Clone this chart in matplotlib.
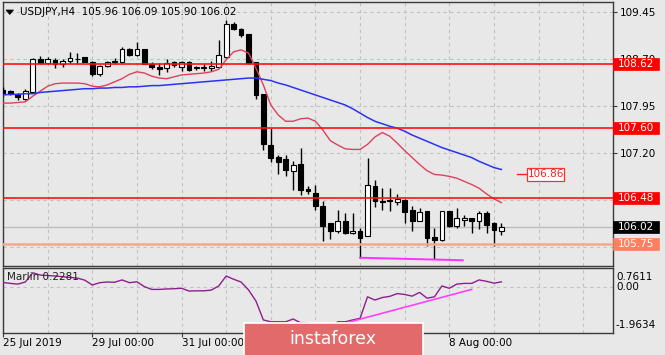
import matplotlib
matplotlib.use("Agg")
import matplotlib.pyplot as plt
from matplotlib.patches import Rectangle, Polygon
from matplotlib.transforms import blended_transform_factory
import numpy as np

plt.rcParams['font.family'] = ['DejaVu Sans']

# ---------------- data ----------------
title = "USDJPY,H4  105.96 106.09 105.90 106.02"
opens = [108.21, 108.20, 108.15, 108.06, 108.17, 108.70, 108.64, 108.69, 108.62, 108.68,
         108.71, 108.73, 108.66, 108.46, 108.60, 108.66, 108.65, 108.86, 108.77, 108.86,
         108.62, 108.57, 108.56, 108.65, 108.58, 108.65, 108.56, 108.56, 108.56, 108.58,
         108.74, 109.26, 109.19, 109.10, 108.65, 108.14, 107.33, 107.14, 107.10, 106.92,
         107.02, 106.62, 106.56, 106.36, 106.08, 105.95, 106.11, 105.92, 105.96, 105.88,
         106.68, 106.44, 106.43, 106.42, 106.46, 106.29, 106.12, 106.27, 105.86, 105.81,
         106.27, 106.04, 106.14, 106.16, 106.12, 106.24, 106.09, 105.96]
highs = [108.25, 108.21, 108.16, 108.23, 108.72, 108.75, 108.74, 108.72, 108.70, 108.82,
         108.80, 108.74, 108.67, 108.61, 108.67, 108.72, 108.90, 108.88, 108.97, 108.87,
         108.66, 108.64, 108.70, 108.68, 108.68, 108.67, 108.60, 108.62, 108.67, 109.01,
         109.32, 109.30, 109.20, 109.11, 108.66, 108.14, 107.60, 107.17, 107.17, 107.08,
         107.29, 106.67, 106.69, 106.44, 106.09, 106.30, 106.24, 106.24, 106.00, 107.12,
         106.77, 106.64, 106.64, 106.55, 106.47, 106.35, 106.32, 106.28, 106.00, 106.28,
         106.28, 106.32, 106.21, 106.17, 106.27, 106.27, 106.10, 106.09]
lows = [108.12, 108.13, 108.05, 108.05, 108.16, 108.62, 108.62, 108.56, 108.58, 108.64,
        108.62, 108.65, 108.43, 108.43, 108.58, 108.62, 108.64, 108.76, 108.76, 108.62,
        108.55, 108.45, 108.50, 108.57, 108.52, 108.52, 108.53, 108.52, 108.51, 108.56,
        108.72, 109.16, 109.06, 108.62, 108.06, 107.25, 107.06, 106.86, 106.84, 106.61,
        106.54, 106.55, 106.29, 105.80, 105.83, 105.92, 105.91, 105.91, 105.53, 105.87,
        106.34, 106.30, 106.28, 106.37, 106.08, 105.95, 106.11, 105.71, 105.51, 105.79,
        106.02, 106.00, 106.04, 105.92, 105.99, 105.92, 105.71, 105.90]
closes = [108.16, 108.14, 108.09, 108.20, 108.70, 108.64, 108.70, 108.62, 108.68, 108.72,
          108.70, 108.66, 108.46, 108.59, 108.65, 108.67, 108.86, 108.77, 108.86, 108.62,
          108.57, 108.55, 108.64, 108.61, 108.66, 108.53, 108.57, 108.57, 108.60, 108.77,
          109.26, 109.18, 109.08, 108.64, 108.13, 107.34, 107.13, 107.06, 106.93, 107.01,
          106.61, 106.60, 106.35, 106.04, 105.96, 106.12, 105.92, 105.96, 105.85, 106.69,
          106.43, 106.42, 106.45, 106.47, 106.26, 106.11, 106.26, 105.84, 105.81, 106.27,
          106.03, 106.17, 106.16, 106.11, 106.24, 106.06, 105.97, 106.02]
ma_fast = [108.00, 108.00, 108.01, 108.02, 108.11, 108.19, 108.27, 108.31, 108.32, 108.32,
           108.32, 108.31, 108.27, 108.26, 108.29, 108.34, 108.39, 108.46, 108.50, 108.48,
           108.43, 108.40, 108.39, 108.42, 108.45, 108.46, 108.47, 108.48, 108.50, 108.54,
           108.69, 108.82, 108.85, 108.80, 108.56, 108.29, 107.97, 107.81, 107.71, 107.71,
           107.75, 107.76, 107.71, 107.57, 107.40, 107.33, 107.27, 107.26, 107.26, 107.34,
           107.46, 107.53, 107.47, 107.36, 107.24, 107.13, 107.02, 106.92, 106.86, 106.85,
           106.83, 106.80, 106.75, 106.70, 106.64, 106.55, 106.47, 106.41]
ma_slow = [108.13, 108.14, 108.14, 108.15, 108.15, 108.17, 108.18, 108.19, 108.20, 108.21,
           108.22, 108.23, 108.23, 108.24, 108.24, 108.25, 108.25, 108.26, 108.26, 108.27,
           108.28, 108.28, 108.29, 108.30, 108.31, 108.32, 108.33, 108.34, 108.35, 108.36,
           108.37, 108.38, 108.39, 108.40, 108.40, 108.38, 108.36, 108.32, 108.29, 108.25,
           108.21, 108.17, 108.13, 108.09, 108.05, 108.01, 107.97, 107.91, 107.84, 107.77,
           107.71, 107.67, 107.63, 107.60, 107.55, 107.49, 107.44, 107.39, 107.34, 107.29,
           107.25, 107.21, 107.17, 107.13, 107.07, 107.02, 106.97, 106.94]
marlin = [0.20, 0.16, 0.13, 0.22, 0.62, 0.52, 0.50, 0.48, 0.45, 0.42,
          0.39, 0.30, 0.09, 0.19, 0.22, 0.21, 0.31, 0.19, 0.23, 0.02,
          -0.10, -0.10, -0.08, -0.07, -0.05, -0.17, -0.16, -0.16, -0.13, 0.05,
          0.48, 0.34, 0.22, -0.12, -0.60, -1.42, -1.50, -1.50, -1.50, -1.38,
          -1.54, -1.56, -1.80, -1.96, -1.80, -1.50, -1.50, -1.42, -1.35, -0.42,
          -0.56, -0.45, -0.40, -0.28, -0.32, -0.39, -0.23, -0.48, -0.42, 0.05,
          -0.05, 0.13, 0.16, 0.16, 0.31, 0.25, 0.17, 0.2281]

levels_red = [108.62, 107.60, 106.48]
level_salmon = 105.75
bid = 106.02
target_label = 106.86
price_ticks = [109.45, 108.70, 107.95, 107.20, 106.45, 105.70]
price_tick_labels = ["109.45", "108.70", "107.95", "107.20", "", ""]
date_labels = ["25 Jul 2019", "29 Jul 00:00", "31 Jul 00:00", "8 Aug 00:00"]
date_pos = [0, 12, 24, 60]
day_starts = list(range(0, 84, 6))
sup_line = ([48, 61.8], [105.53, 105.49])
osc_trend = ([46.2, 63.0], [-1.54, -0.10])
marlin_max, marlin_min = 0.7611, -1.9634

# ---------------- figure ----------------
W, H = 665, 355
BG = '#E8E8E8'
fig = plt.figure(figsize=(W / 100, H / 100), dpi=100, facecolor=BG)


def fx(px):
    return px / W


def fy(py):
    return 1 - py / H


ax = fig.add_axes([fx(3), fy(265.5), (613 - 3) / W, (265.5 - 2) / H])
ax2 = fig.add_axes([fx(3), fy(332.7), (613 - 3) / W, (332.7 - 267.5) / H])
for a in (ax, ax2):
    a.set_facecolor(BG)
    for s in a.spines.values():
        s.set_color('#3a3a3a')
        s.set_linewidth(1.0)

x = np.arange(len(opens))
ax.set_xlim(0, 82)
ax.set_ylim(105.406, 109.615)
ax2.set_xlim(0, 82)
ax2.set_ylim(-1.972, 0.848)

grid_kw = dict(color='#C2C2C2', linestyle=(0, (3, 3)), linewidth=0.8)
ax.set_xticks(day_starts)
ax.tick_params(axis='x', length=0, labelbottom=False)
ax.yaxis.tick_right()
ax.set_yticks(price_ticks)
ax.set_yticklabels(price_tick_labels)
ax.tick_params(axis='y', right=True, length=3, pad=2, labelsize=7.5, color='#3a3a3a')
ax.grid(True, **grid_kw)
ax.set_axisbelow(True)

ax2.set_xticks(day_starts, minor=True)
ax2.set_xticks(date_pos)
ax2.tick_params(axis='x', which='minor', length=0)
ax2.tick_params(axis='x', which='major', length=3, labelbottom=False, color='#3a3a3a')
ax2.set_yticks([])
ax2.grid(True, axis='x', which='both', **grid_kw)
ax2.axhline(0, **grid_kw, zorder=0.5)

# candles
o = np.array(opens); c = np.array(closes); h = np.array(highs); l = np.array(lows)
ax.vlines(x, l, h, color='black', linewidth=1.0, zorder=3)
bull = c >= o
bh = np.maximum(np.abs(c - o), 0.006)
ax.bar(x[bull], bh[bull], bottom=np.minimum(o, c)[bull], width=0.64,
       color='white', edgecolor='black', linewidth=0.8, zorder=4)
ax.bar(x[~bull], bh[~bull], bottom=np.minimum(o, c)[~bull], width=0.64,
       color='black', edgecolor='black', linewidth=0.8, zorder=4)

# moving averages
ax.plot(x, ma_fast, color='#E0405C', linewidth=1.0, zorder=5)
ax.plot(x, ma_slow, color='#2A34F0', linewidth=1.1, zorder=5)

# level lines
ax.axhline(bid, color='#BDBDBD', linewidth=1.0, zorder=2)
for lv in levels_red:
    ax.axhline(lv, color='#FF1010', linewidth=1.2, zorder=6)
ax.axhline(level_salmon, color='#F2A98E', linewidth=1.8, zorder=6)
ax.plot(sup_line[0], sup_line[1], color='#FF30FF', linewidth=1.4, zorder=6)

# right-axis price boxes
tb = blended_transform_factory(ax.transAxes, ax.transData)
ppu = 62.6  # pixels per price unit
bw = 46 / 610


def price_box(val, fc, tc='white'):
    hh = 12.2 / ppu
    ax.add_patch(Rectangle((1.0005, val - hh / 2), bw, hh, transform=tb, facecolor=fc,
                           edgecolor=fc, linewidth=0.5, clip_on=False, zorder=20))
    ax.text(1 + 5 / 610, val, f"{val:.2f}", transform=tb, ha='left', va='center',
            fontsize=7.5, color=tc, clip_on=False, zorder=21)


for lv in levels_red:
    price_box(lv, '#FF0000')
price_box(bid, '#000000')
price_box(level_salmon, '#FF8060')

# target label 106.86
ax.plot([69.1, 70.4], [target_label, target_label], color='#FF2020', linewidth=1.0,
        zorder=7, clip_on=False)
hh = 12.5 / ppu
ax.add_patch(Rectangle((70.4, target_label - hh / 2), 37 / 7.44, hh, facecolor='white',
                       edgecolor='#FF3030', linewidth=0.9, zorder=7))
ax.text(70.55, target_label, f"{target_label:.2f}", ha='left', va='center',
        fontsize=7.5, color='#FF2020', zorder=8)

# oscillator
ax2.plot(x, marlin, color='#8E1E8E', linewidth=1.0, zorder=3)
ax2.plot(osc_trend[0], osc_trend[1], color='#FF40FF', linewidth=1.2, zorder=4)
ax2.text(4 / 610, 0.85, f"Marlin {marlin[-1]:.4f}", transform=ax2.transAxes,
         ha='left', va='center', fontsize=7.5, color='#202020')

# oscillator scale labels
fig.text(fx(616), fy(276.7), f"{marlin_max:.4f}", ha='left', va='center', fontsize=7.5)
fig.text(fx(616), fy(286.7), "0.00", ha='left', va='center', fontsize=7.5)
fig.text(fx(615), fy(325), f"{marlin_min:.4f}", ha='left', va='center', fontsize=7.5)

# date labels
for lab, p in zip(date_labels, date_pos):
    px = 3 + 7.44 * p
    fig.text(fx(px), fy(343.5), lab, ha='left', va='center', fontsize=7.5)

# title
fig.text(fx(20), fy(12.3), title, ha='left', va='center', fontsize=7.5)
fig.add_artist(Polygon([[fx(6), fy(10)], [fx(13.5), fy(10)], [fx(9.75), fy(14.5)]],
                       closed=True, transform=fig.transFigure, facecolor='black',
                       edgecolor='black', linewidth=0.5))

# watermark logo
fig.add_artist(Rectangle((fx(244), fy(355.5)), (423 - 244) / W, (355.5 - 323.3) / H,
                         transform=fig.transFigure, facecolor='#E36A6A', edgecolor='white',
                         linewidth=1.2, zorder=30))
fig.text(fx(333), fy(339), "instaforex", ha='center', va='center', fontsize=12.5,
         color='white', zorder=31)

fig.savefig("out.png", dpi=100, facecolor=BG)
